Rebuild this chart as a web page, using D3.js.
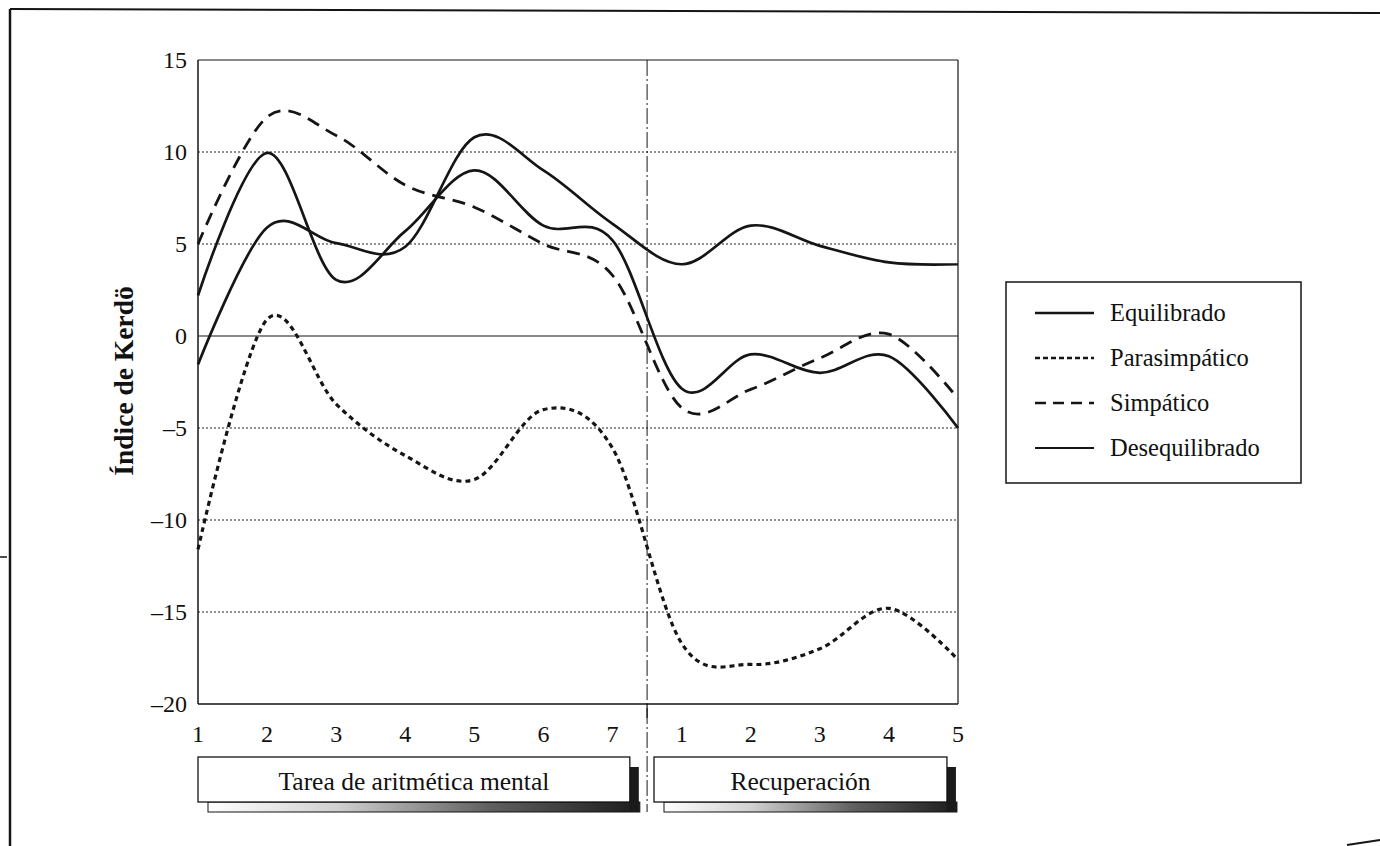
<!DOCTYPE html>
<html>
<head>
<meta charset="utf-8">
<script src="https://cdn.jsdelivr.net/npm/d3@7"></script>
<style>
  html, body { margin: 0; padding: 0; background: #fff; }
  svg { display: block; }
  text { font-family: "Liberation Serif", "Times New Roman", serif; fill: #111; }
</style>
</head>
<body>
<svg id="chart" width="1380" height="846"></svg>
<script>
// ---------- data ----------
const xLabels = ["1","2","3","4","5","6","7","1","2","3","4","5"];
const yTicks = [15, 10, 5, 0, -5, -10, -15, -20];
const yGrid = [10, 5, -5, -10, -15];
const sections = ["Tarea de aritmética mental", "Recuperación"];
const seriesNames = ["Equilibrado", "Parasimpático", "Simpático", "Desequilibrado"];

const equilibrado   = [2.2, 9.95, 3.05, 5.7, 9.0, 6.0, 5.2, -2.85, -1.0, -2.0, -1.1, -5.0];
const parasimpatico = [-11.6, 0.9, -3.7, -6.5, -7.8, -4.0, -6.1, -16.7, -17.85, -17.0, -14.8, -17.6];
const simpatico     = [5.0, 11.9, 10.9, 8.2, 7.0, 5.0, 3.3, -3.9, -2.9, -1.2, 0.1, -3.4];
const desequilibrado= [-1.55, 5.9, 5.05, 4.85, 10.8, 9.0, 6.1, 3.9, 6.0, 4.9, 4.0, 3.9];

// ---------- layout ----------
const svg = d3.select("#chart");
const x = d3.scaleLinear().domain([0, 11]).range([198, 958]);
const y = d3.scaleLinear().domain([-20, 15]).range([704, 60]);
const ink = "#151515";
const fs = 24;

// outer frame (scanned page border)
svg.append("line").attr("x1", 10).attr("y1", 9).attr("x2", 1380).attr("y2", 13)
  .attr("stroke", ink).attr("stroke-width", 2);
svg.append("line").attr("x1", 10).attr("y1", 9).attr("x2", 10).attr("y2", 846)
  .attr("stroke", ink).attr("stroke-width", 2.5);
svg.append("line").attr("x1", 1347).attr("y1", 845).attr("x2", 1380).attr("y2", 840)
  .attr("stroke", ink).attr("stroke-width", 2);
svg.append("line").attr("x1", 0).attr("y1", 557).attr("x2", 7).attr("y2", 557)
  .attr("stroke", ink).attr("stroke-width", 1.5);

// grid lines
const g = svg.append("g");
g.selectAll("line.grid").data(yGrid).enter().append("line")
  .attr("x1", x(0)).attr("x2", x(11))
  .attr("y1", d => y(d)).attr("y2", d => y(d))
  .attr("stroke", "#222").attr("stroke-width", 1).attr("stroke-dasharray", "2,2");
// zero line
g.append("line").attr("x1", x(0)).attr("x2", x(11)).attr("y1", y(0)).attr("y2", y(0))
  .attr("stroke", ink).attr("stroke-width", 1);
// frame
g.append("line").attr("x1", x(0)).attr("x2", x(11)).attr("y1", y(15)).attr("y2", y(15))
  .attr("stroke", ink).attr("stroke-width", 1.2);
g.append("line").attr("x1", x(11)).attr("x2", x(11)).attr("y1", y(15)).attr("y2", y(-20))
  .attr("stroke", ink).attr("stroke-width", 1.2);
g.append("line").attr("x1", x(0)).attr("x2", x(0)).attr("y1", y(15)).attr("y2", y(-20))
  .attr("stroke", ink).attr("stroke-width", 1.5);
g.append("line").attr("x1", x(0)).attr("x2", x(11)).attr("y1", y(-20)).attr("y2", y(-20))
  .attr("stroke", ink).attr("stroke-width", 1.6);

// divider (dash-dot) between phases
g.append("line").attr("x1", x(6.5)).attr("x2", x(6.5)).attr("y1", y(15)).attr("y2", 812)
  .attr("stroke", ink).attr("stroke-width", 1).attr("stroke-dasharray", "16,3,2,3");
g.append("line").attr("x1", x(6.5)).attr("x2", x(6.5)).attr("y1", y(-20)).attr("y2", 718)
  .attr("stroke", ink).attr("stroke-width", 1.2);

// y tick labels
svg.append("g").selectAll("text").data(yTicks).enter().append("text")
  .attr("x", 187).attr("y", d => y(d)).attr("dy", "0.35em")
  .attr("text-anchor", "end").attr("font-size", fs)
  .text(d => d < 0 ? "\u2013" + Math.abs(d) : d);

// x tick labels
svg.append("g").selectAll("text").data(xLabels).enter().append("text")
  .attr("x", (d, i) => x(i)).attr("y", 742)
  .attr("text-anchor", "middle").attr("font-size", fs)
  .text(d => d);

// y title
svg.append("text").attr("transform", "translate(133,381) rotate(-90)")
  .attr("text-anchor", "middle").attr("font-size", 27.5).attr("font-weight", "bold")
  .text("Índice de Kerdö");

// series
const line = d3.line().x((d, i) => x(i)).y(d => y(d)).curve(d3.curveCardinal.tension(0));
const styles = [
  { data: equilibrado, w: 2.7, dash: null },
  { data: parasimpatico, w: 3.2, dash: "5,4" },
  { data: simpatico, w: 2.8, dash: "13,8" },
  { data: desequilibrado, w: 2.7, dash: null }
];
svg.append("g").selectAll("path").data(styles).enter().append("path")
  .attr("d", d => line(d.data)).attr("fill", "none").attr("stroke", ink)
  .attr("stroke-width", d => d.w).attr("stroke-dasharray", d => d.dash);

// legend
const lg = svg.append("g");
lg.append("rect").attr("x", 1006).attr("y", 282).attr("width", 295).attr("height", 201)
  .attr("fill", "#fff").attr("stroke", ink).attr("stroke-width", 1.5);
const legY = [313, 358, 403, 448];
const legStyles = [
  { w: 2.7, dash: null }, { w: 2.7, dash: "5,3" }, { w: 2.7, dash: "11,7" }, { w: 2.2, dash: null }
];
seriesNames.forEach((name, i) => {
  lg.append("line").attr("x1", 1035).attr("x2", 1094).attr("y1", legY[i]).attr("y2", legY[i])
    .attr("stroke", ink).attr("stroke-width", legStyles[i].w)
    .attr("stroke-dasharray", legStyles[i].dash);
  lg.append("text").attr("x", 1110).attr("y", legY[i]).attr("dy", "0.33em")
    .attr("font-size", 24.5).text(name);
});

// section boxes
const defs = svg.append("defs");
const grad = defs.append("linearGradient").attr("id", "shade").attr("x1", "0").attr("x2", "1");
grad.append("stop").attr("offset", "0").attr("stop-color", "#ffffff");
grad.append("stop").attr("offset", "0.3").attr("stop-color", "#d0d0d0");
grad.append("stop").attr("offset", "0.65").attr("stop-color", "#606060");
grad.append("stop").attr("offset", "1").attr("stop-color", "#1c1c1c");

const boxes = [
  { a: 0, b: 6.25, label: sections[0] },
  { a: 6.6, b: 10.84, label: sections[1] }
];
boxes.forEach(bx => {
  const x0 = x(bx.a), x1 = x(bx.b);
  // bottom shaded strip
  svg.append("rect").attr("x", x0 + 10).attr("y", 802).attr("width", x1 - x0).attr("height", 10)
    .attr("fill", "url(#shade)").attr("stroke", ink).attr("stroke-width", 1);
  // right dark shadow
  svg.append("rect").attr("x", x1).attr("y", 767).attr("width", 9).attr("height", 45)
    .attr("fill", "#1a1a1a");
  svg.append("rect").attr("x", x0).attr("y", 757).attr("width", x1 - x0).attr("height", 45)
    .attr("fill", "#fff").attr("stroke", ink).attr("stroke-width", 1.3);
  svg.append("text").attr("x", (x0 + x1) / 2).attr("y", 781).attr("dy", "0.35em")
    .attr("text-anchor", "middle").attr("font-size", 25.5).text(bx.label);
});
</script>
</body>
</html>
